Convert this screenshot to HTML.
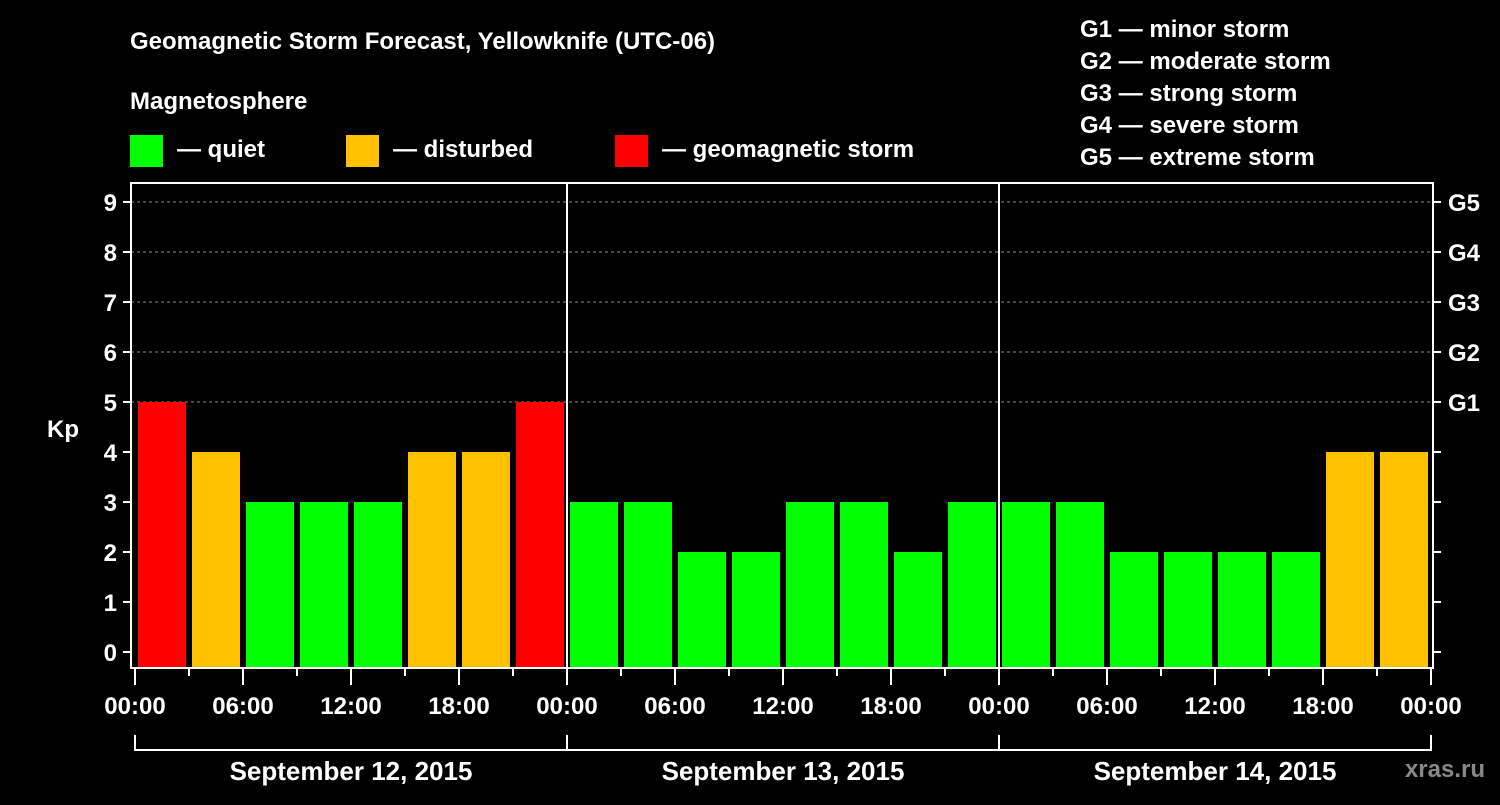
<!DOCTYPE html>
<html><head><meta charset="utf-8"><style>
body{margin:0;background:#000;}
svg text{font-family:"Liberation Sans",Arial,sans-serif;font-weight:bold;fill:#fff;}
</style></head><body>
<svg id="chart" width="1500" height="800" xmlns="http://www.w3.org/2000/svg">
<rect width="1500" height="800" fill="#000"/>
<text x="130" y="49" font-size="24">Geomagnetic Storm Forecast, Yellowknife (UTC-06)</text>
<text x="130" y="109" font-size="24">Magnetosphere</text>
<g><rect x="130" y="135" width="33" height="32" fill="#00ff00"/><text x="177" y="157" font-size="24">— quiet</text></g>
<g><rect x="346" y="135" width="33" height="32" fill="#ffc000"/><text x="393" y="157" font-size="24">— disturbed</text></g>
<g><rect x="615" y="135" width="33" height="32" fill="#ff0000"/><text x="662" y="157" font-size="24">— geomagnetic storm</text></g>
<g font-size="24">
<text x="1080" y="37">G1 — minor storm</text>
<text x="1080" y="69">G2 — moderate storm</text>
<text x="1080" y="101">G3 — strong storm</text>
<text x="1080" y="133">G4 — severe storm</text>
<text x="1080" y="165">G5 — extreme storm</text>
</g>
<g id="plot"></g>
<text x="63" y="437" font-size="24" text-anchor="middle">Kp</text>
<text x="1485" y="777" font-size="24" text-anchor="end" fill="#888" style="fill:#888">xras.ru</text>
</svg>
<script>
const kpValues=[5,4,3,3,3,4,4,5, 3,3,2,2,3,3,2,3, 3,3,2,2,2,2,4,4];
const dayLabels=["September 12, 2015","September 13, 2015","September 14, 2015"];
const hourLabels=["00:00","06:00","12:00","18:00"];
const gLabels=["G1","G2","G3","G4","G5"];
const yTicks=[0,1,2,3,4,5,6,7,8,9];
const NS="http://www.w3.org/2000/svg";
const g=document.getElementById('plot');
const X0=135,PXH=18,Y0=652,PXK=50,L=131,R=1433,T=183,B=668;
const xs=h=>X0+h*PXH, ys=k=>Y0-k*PXK;
function el(tag,attrs,parent){const e=document.createElementNS(NS,tag);for(const k in attrs)e.setAttribute(k,attrs[k]);(parent||g).appendChild(e);return e;}
function col(k){return k>=5?'#ff0000':(k>=4?'#ffc000':'#00ff00');}
yTicks.forEach(k=>{
 if(k>=5){const l=el('line',{x1:L,x2:R,y1:ys(k),y2:ys(k),stroke:'#888','stroke-dasharray':'3,3','stroke-width':1});
 
 }
 const t=el('line',{x1:L-8,x2:L,y1:ys(k),y2:ys(k),stroke:'#fff','stroke-width':2});
 
 
 const t2=el('line',{x1:R,x2:R+8,y1:ys(k),y2:ys(k),stroke:'#fff','stroke-width':2});
 
 
 const tx=el('text',{x:L-14,y:ys(k)+9,'font-size':24,'text-anchor':'end'});tx.textContent=k;
 
 
});
gLabels.forEach((s,i)=>{const tx=el('text',{x:R+15,y:ys(5+i)+9,'font-size':24});tx.textContent=s;
 
 });
kpValues.forEach((k,i)=>{
 const r=el('rect',{x:xs(i*3)+3,y:ys(k),width:PXH*3-6,height:B-ys(k)-1,fill:col(k)});
 
 
});
const fr=el('rect',{x:L,y:T,width:R-L,height:B-T,fill:'none',stroke:'#fff','stroke-width':2});


dayLabels.forEach((d,i)=>{
 if(i>0){const v=el('line',{x1:xs(i*24),x2:xs(i*24),y1:T,y2:B,stroke:'#fff','stroke-width':2});
 
 }
 const br=el('path',{d:`M${xs(i*24)},735 V750 H${xs(i*24+24)} V735`,fill:'none',stroke:'#fff','stroke-width':2});
 
 
 const tx=el('text',{x:xs(i*24+12),y:780,'font-size':26,'text-anchor':'middle'});tx.textContent=d;
 
 
});
for(let h=0;h<=72;h+=3){
 const major=h%6===0;
 const t=el('line',{x1:xs(h),x2:xs(h),y1:B,y2:B+(major?17:8),stroke:'#fff','stroke-width':2});
 
 
 if(major&&h%6===0&&(h%24)%6===0){
  const lab=hourLabels[(h%24)/6];
  const tx=el('text',{x:xs(h),y:714,'font-size':24,'text-anchor':'middle'});tx.textContent=lab;
  
  
 }
}
</script>
</body></html>
